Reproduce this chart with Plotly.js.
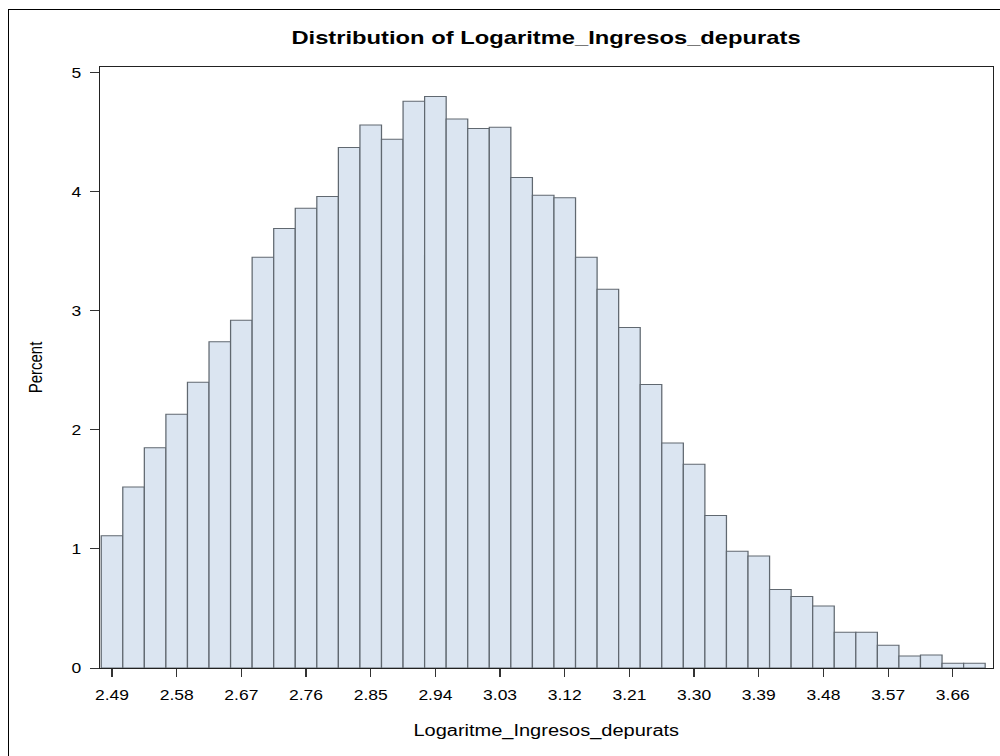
<!DOCTYPE html>
<html>
<head>
<meta charset="utf-8">
<script src="https://cdn.plot.ly/plotly-3.0.1.min.js"></script>
<style>
  html, body { margin: 0; padding: 0; background: #fff; }
  #wrap { position: relative; width: 1000px; height: 756px; overflow: hidden; background: #fff; }
  #chart { position: absolute; left: 0; top: 0; width: 800px; height: 756px;
           transform: scaleX(1.25); transform-origin: 0 0; }
  #frame { position: absolute; left: 8px; top: 9px; width: 1000px; height: 800px;
           border: 1px solid #000; pointer-events: none; }
</style>
</head>
<body>
<div id="wrap">
  <div id="chart"></div>
  <div id="frame"></div>
</div>
<script>
const binCenters = [2.49, 2.52, 2.55, 2.58, 2.61, 2.64, 2.67, 2.70, 2.73, 2.76,
                    2.79, 2.82, 2.85, 2.88, 2.91, 2.94, 2.97, 3.00, 3.03, 3.06,
                    3.09, 3.12, 3.15, 3.18, 3.21, 3.24, 3.27, 3.30, 3.33, 3.36,
                    3.39, 3.42, 3.45, 3.48, 3.51, 3.54, 3.57, 3.60, 3.63, 3.66, 3.69];
const percentValues = [1.11, 1.52, 1.85, 2.13, 2.40, 2.74, 2.92, 3.45, 3.69, 3.86,
                       3.96, 4.37, 4.56, 4.44, 4.76, 4.80, 4.61, 4.53, 4.54, 4.12,
                       3.97, 3.95, 3.45, 3.18, 2.86, 2.38, 1.89, 1.71, 1.28, 0.98,
                       0.94, 0.66, 0.60, 0.52, 0.30, 0.30, 0.19, 0.10, 0.11, 0.04, 0.04];
const xTickVals = [2.49, 2.58, 2.67, 2.76, 2.85, 2.94, 3.03, 3.12, 3.21, 3.30, 3.39, 3.48, 3.57, 3.66];
const xTickText = ["2.49", "2.58", "2.67", "2.76", "2.85", "2.94", "3.03", "3.12", "3.21", "3.30", "3.39", "3.48", "3.57", "3.66"];
const yTickVals = [0, 1, 2, 3, 4, 5];
const binWidth = 0.03;

// horizontal stretch of the reference rendering
const SX = 1.25;

const trace = {
  type: 'bar',
  x: binCenters,
  y: percentValues,
  width: binCenters.map(() => binWidth),
  marker: {
    color: 'rgb(219,229,241)',
    line: { color: 'rgb(96,104,112)', width: 1 }
  },
  hoverinfo: 'x+y'
};

const font = { family: 'Liberation Sans, Arial, sans-serif', color: '#000' };

const layout = {
  width: 1000 / SX,
  height: 756,
  margin: { l: 99.5 / SX, r: 7 / SX, t: 67, b: 88, pad: 0 },
  paper_bgcolor: '#fff',
  plot_bgcolor: '#fff',
  showlegend: false,
  bargap: 0,
  font: Object.assign({ size: 14 }, font),
  title: {
    text: '<b>Distribution of Logaritme_Ingresos_depurats</b>',
    font: Object.assign({}, font, { size: 19 }),
    x: 0.546, xanchor: 'center',
    y: 0.95, yanchor: 'middle', yref: 'container'
  },
  xaxis: {
    range: [2.4733, 3.7152],
    tickmode: 'array',
    tickvals: xTickVals,
    ticktext: xTickText,
    ticks: 'outside',
    ticklen: 8,
    tickcolor: '#333',
    tickwidth: 1,
    ticklabelstandoff: 6,
    showgrid: false,
    zeroline: false,
    showline: true,
    linecolor: '#222',
    linewidth: 1,
    mirror: true,
    tickfont: Object.assign({}, font, { size: 14 }),
    title: { text: 'Logaritme_Ingresos_depurats', font: Object.assign({}, font, { size: 16 }), standoff: 23 }
  },
  yaxis: {
    range: [0, 5.047],
    tickmode: 'array',
    tickvals: yTickVals,
    ticks: 'outside',
    ticklen: 9 / SX,
    tickcolor: '#333',
    tickwidth: 1,
    ticklabelstandoff: 4,
    showgrid: false,
    zeroline: false,
    showline: true,
    linecolor: '#222',
    linewidth: 1,
    mirror: true,
    tickfont: Object.assign({}, font, { size: 14 }),
    title: { text: 'Percent', font: Object.assign({}, font, { size: 15 }), standoff: 19 }
  }
};

Plotly.newPlot('chart', [trace], layout, { displayModeBar: false, staticPlot: true });
</script>
</body>
</html>
